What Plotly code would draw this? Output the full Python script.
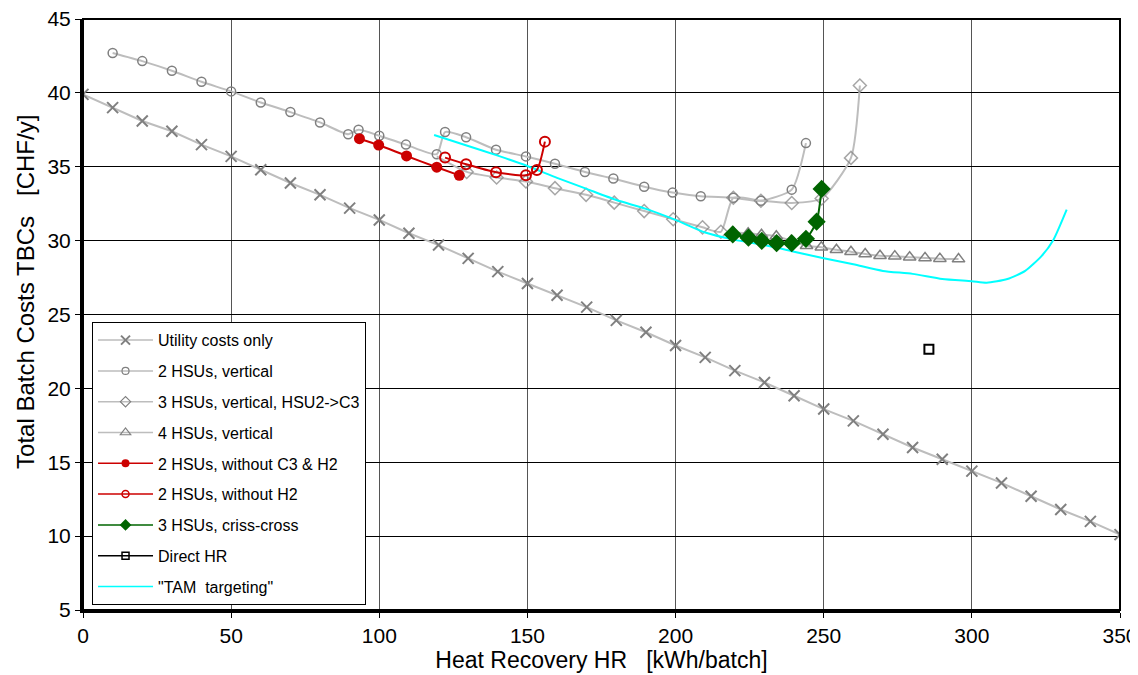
import plotly.graph_objects as go

# ---------------- data ----------------
util_x = [0, 10, 20, 30, 40, 50, 60, 70, 80, 90, 100, 110, 120, 130, 140, 150, 160, 170,
          180, 190, 200, 210, 220, 230, 240, 250, 260, 270, 280, 290, 300, 310, 320, 330, 340, 350]
util_y = [39.9, 39.0, 38.1, 37.4, 36.5, 35.7, 34.8, 33.9, 33.1, 32.2, 31.4, 30.5, 29.7, 28.8,
          27.9, 27.1, 26.3, 25.5, 24.6, 23.8, 22.9, 22.1, 21.2, 20.4, 19.5, 18.6, 17.8, 16.9,
          16.0, 15.2, 14.4, 13.6, 12.7, 11.8, 11.0, 10.1]

hsu2v_x = [10, 20, 30, 40, 50, 60, 70, 80, 89.5, 93, 100, 109, 119.4, 122.2, 129.3, 139.4,
           149.5, 159.3, 169.4, 179, 189.4, 199, 208.5, 219.5, 228.8, 239.2, 244]
hsu2v_y = [42.7, 42.15, 41.5, 40.75, 40.1, 39.35, 38.7, 38.0, 37.2, 37.5, 37.1, 36.5, 35.85,
           37.35, 37.0, 36.15, 35.7, 35.2, 34.65, 34.2, 33.65, 33.25, 33.0, 32.9, 32.7, 33.45, 36.6]

hsu3v_x = [119.4, 129.5, 139.6, 149.5, 159.3, 169.8, 179.3, 189.4, 199.2, 209.1, 215.3,
           219.5, 228.8, 239.2, 249.3, 259.2, 262.2]
hsu3v_y = [35.7, 34.65, 34.27, 34.0, 33.55, 33.1, 32.57, 32.0, 31.45, 30.9, 30.6,
           32.9, 32.7, 32.55, 32.85, 35.6, 40.5]

hsu4v_x = [219.5, 224.5, 229, 234, 239, 244.2, 249.2, 254.3, 259.2, 264, 269, 274, 279,
           284.2, 289.2, 295.5]
hsu4v_y = [30.55, 30.5, 30.4, 30.3, 30.0, 29.65, 29.55, 29.38, 29.25, 29.1, 28.98, 28.95,
           28.88, 28.83, 28.78, 28.75]

noc3h2_x = [93.3, 99.8, 109.2, 119.4, 127]
noc3h2_y = [36.9, 36.47, 35.73, 34.97, 34.42]

noh2_x = [122.2, 129.3, 139.4, 149.5, 153.2, 155.9]
noh2_y = [35.62, 35.17, 34.63, 34.42, 34.78, 36.7]

cross_x = [219.3, 224.6, 229.1, 234.1, 239.2, 244, 247.6, 249.3]
cross_y = [30.42, 30.2, 29.98, 29.83, 29.83, 30.12, 31.28, 33.5]

direct_x = [285.5]
direct_y = [22.65]

tam_x = [118.5, 130, 140, 150, 160, 170, 180, 190, 200, 210, 220, 230, 240, 250, 260, 270,
         280, 290, 300, 305, 312, 318, 323.5, 327.5, 332]
tam_y = [37.15, 36.4, 35.75, 35.05, 34.25, 33.5, 32.75, 32.15, 31.4, 30.55, 30.05, 29.7,
         29.25, 28.8, 28.4, 27.95, 27.75, 27.4, 27.25, 27.15, 27.4, 27.95, 28.95, 30.05, 32.1]

names = ["Utility costs only", "2 HSUs, vertical", "3 HSUs, vertical, HSU2->C3",
         "4 HSUs, vertical", "2 HSUs, without C3 & H2", "2 HSUs, without H2",
         "3 HSUs, criss-cross", "Direct HR", "\"TAM\u00a0\u00a0targeting\""]

x_title = "Heat Recovery HR\u00a0\u00a0\u00a0[kWh/batch]"
y_title = "Total Batch Costs TBCs\u00a0\u00a0\u00a0[CHF/y]"

# ---------------- figure ----------------
GL = "#bdbdbd"   # light gray line
GM = "#808080"   # gray marker
RED = "#cc0000"
GRN = "#006400"
FONT = "Liberation Sans, Arial, Helvetica, sans-serif"

fig = go.Figure()

def add(x, y, line, marker, shape="spline", mode="lines+markers"):
    fig.add_trace(go.Scatter(x=x, y=y, mode=mode, showlegend=False, hoverinfo="x+y",
                             line=dict(shape=shape, smoothing=0.6, **line), marker=marker))

add(util_x, util_y, dict(color=GL, width=2),
    dict(symbol="x-thin", size=11, line=dict(color=GM, width=2), color=GM), shape="linear")
add(hsu2v_x, hsu2v_y, dict(color=GL, width=2),
    dict(symbol="circle-open", size=9, line=dict(color=GM, width=1.5), color=GM))
d_sizes = [0] + [10] * (len(hsu3v_x) - 1)
add(hsu3v_x, hsu3v_y, dict(color=GL, width=2),
    dict(symbol="diamond-open", size=d_sizes, line=dict(color=GM, width=1.5), color=GM))
add(hsu4v_x, hsu4v_y, dict(color=GL, width=2),
    dict(symbol="triangle-up-open", size=11, line=dict(color=GM, width=1.5), color=GM))
add(tam_x, tam_y, dict(color="#00ffff", width=2), dict(size=1), mode="lines")
add(noc3h2_x, noc3h2_y, dict(color=RED, width=2),
    dict(symbol="circle", size=11, color=RED))
add(noh2_x, noh2_y, dict(color=RED, width=2),
    dict(symbol="circle-open", size=10, line=dict(color=RED, width=2), color=RED))
add(cross_x, cross_y, dict(color=GRN, width=2),
    dict(symbol="diamond", size=14, color=GRN))
add(direct_x, direct_y, dict(color="black", width=2),
    dict(symbol="square-open", size=9, line=dict(color="black", width=2), color="black"),
    mode="markers")

# legend entries (small symbols like the reference legend)
leg_styles = [
    (dict(color=GL, width=1.5), dict(symbol="x-thin", size=9, line=dict(color=GM, width=2), color=GM)),
    (dict(color=GL, width=1.5), dict(symbol="circle-open", size=7, line=dict(color=GM, width=1.2), color=GM)),
    (dict(color=GL, width=1.5), dict(symbol="diamond-open", size=8, line=dict(color=GM, width=1.2), color=GM)),
    (dict(color=GL, width=1.5), dict(symbol="triangle-up-open", size=9, line=dict(color=GM, width=1.2), color=GM)),
    (dict(color=RED, width=1.5), dict(symbol="circle", size=8, color=RED)),
    (dict(color=RED, width=1.5), dict(symbol="circle-open", size=7, line=dict(color=RED, width=1.5), color=RED)),
    (dict(color=GRN, width=1.5), dict(symbol="diamond", size=9, color=GRN)),
    (dict(color="black", width=1.5), dict(symbol="square-open", size=7, line=dict(color="black", width=1.5), color="black")),
    (dict(color="#00ffff", width=1.5), None),
]
for i, (nm, (ln, mk)) in enumerate(zip(names, leg_styles)):
    fig.add_trace(go.Scatter(x=[None], y=[None], name=nm, legendgroup=str(i),
                             mode="lines" if mk is None else "lines+markers",
                             line=ln, marker=mk if mk else dict(size=1),
                             showlegend=True, hoverinfo="skip"))

fig.update_layout(
    width=1130, height=667,
    margin=dict(l=75, r=18, t=11, b=65, autoexpand=False),
    paper_bgcolor="white", plot_bgcolor="white",
    font=dict(family=FONT, size=21, color="black"),
    showlegend=True,
    legend=dict(x=0.0087, y=0.487, xanchor="left", yanchor="top",
                bgcolor="white", bordercolor="black", borderwidth=1,
                font=dict(size=16, family=FONT), tracegroupgap=7,
                traceorder="grouped", itemwidth=55),
    shapes=[dict(type="rect", xref="paper", yref="paper", x0=0, x1=1, y0=0, y1=1,
                 line=dict(color="black", width=2), layer="above")],
    annotations=[dict(text=y_title, textangle=-90, xref="paper", yref="paper",
                      x=-0.056, y=0.538, xanchor="center", yanchor="middle",
                      showarrow=False, font=dict(size=24, family=FONT))],
)

fig.update_xaxes(range=[0, 350], dtick=50, tick0=0, showgrid=True, gridcolor="#555555",
                 gridwidth=1, zeroline=False, showline=True, linecolor="black", linewidth=3,
                 ticks="outside", ticklen=5, tickcolor="black", automargin=False,
                 ticklabeloverflow="allow", tickfont=dict(size=21),
                 title=dict(text=x_title, font=dict(size=23), standoff=6))
fig.update_yaxes(range=[5, 45], dtick=5, tick0=5, showgrid=True, gridcolor="black",
                 gridwidth=1, zeroline=False, showline=True, linecolor="black", linewidth=3,
                 ticks="outside", ticklen=5, tickcolor="black", automargin=False,
                 ticklabeloverflow="allow", tickfont=dict(size=21))

fig.write_html("out.html")
